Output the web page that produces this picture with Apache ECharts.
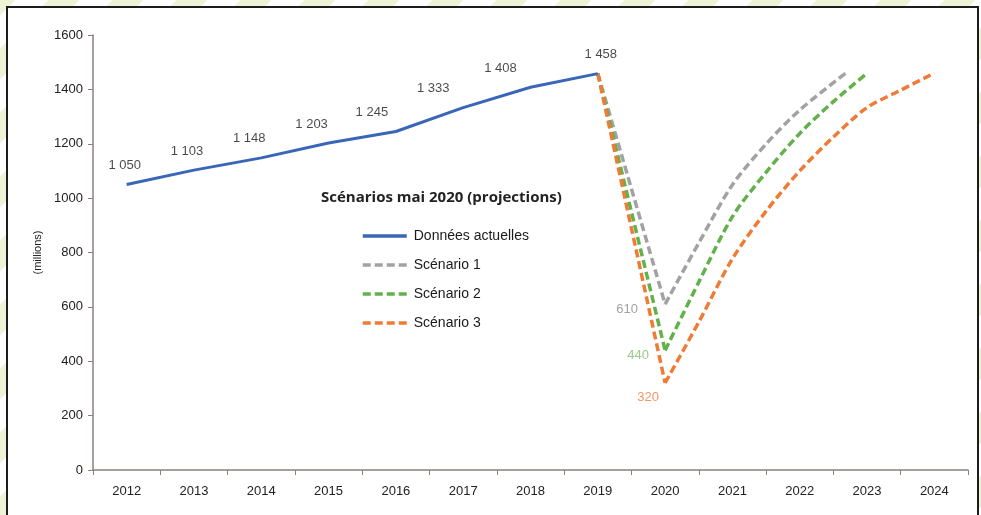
<!DOCTYPE html>
<html>
<head>
<meta charset="utf-8">
<script src="https://cdn.jsdelivr.net/npm/echarts@6/dist/echarts.min.js"></script>
<style>
html,body{margin:0;padding:0;background:#fff;}
#chart{width:981px;height:515px;}
</style>
</head>
<body>
<div id="chart"></div>
<script>
// ---- data ----
const yearLabels = ['2012','2013','2014','2015','2016','2017','2018','2019','2020','2021','2022','2023','2024'];
const actualYears = [2012, 2013, 2014, 2015, 2016, 2017, 2018, 2019];
const actualValues = [1050, 1103, 1148, 1203, 1245, 1333, 1408, 1458];
const dropYears = [2019, 2020];
const s1Drop = [1458, 610];
const s2Drop = [1458, 440];
const s3Drop = [1458, 320];
const s1Years = [2020, 2020.5, 2021, 2021.5, 2022, 2022.68];
const s1Values = [610, 835, 1049, 1199, 1324, 1459];
const s2Years = [2020, 2020.5, 2021, 2021.5, 2022, 2022.5, 2023];
const s2Values = [440, 691, 932, 1095, 1238, 1355, 1459];
const s3Years = [2020, 2020.5, 2021, 2021.5, 2022, 2022.5, 2023, 2023.5, 2024];
const s3Values = [320, 544, 777, 952, 1100, 1225, 1333, 1397, 1460];
const seriesNames = ['Données actuelles', 'Scénario 1', 'Scénario 2', 'Scénario 3'];
const legendTitle = 'Scénarios mai 2020 (projections)';
const yAxisName = '(millions)';

// ---- styles ----
const colors = ['#3a66b8', '#a3a1a3', '#62b14a', '#ef7b35'];
const actualLabelDx = [-2, -7, -12, -17, -24, -30, -30, 3];
const minLabelOffset = [[-38, 5], [-27, 5], [-17, 14]];
const minLabelColor = ['#8d8a8c', '#82b96f', '#ef7b3c'];
const FONT = 'Liberation Sans, Arial, sans-serif';
const fmt = v => String(v).replace(/\B(?=(\d{3})+(?!\d))/g, ' ');
const pairs = (xs, ys) => xs.map((x, i) => [x, ys[i]]);

// stripe pattern background
const pc = document.createElement('canvas');
pc.width = 64; pc.height = 64;
const pctx = pc.getContext('2d');
pctx.fillStyle = '#ffffff'; pctx.fillRect(0,0,64,64);
pctx.strokeStyle = '#eef3d8'; pctx.lineWidth = 22;
for (let k = -2; k <= 2; k++) {
  pctx.beginPath(); pctx.moveTo(k*64 - 10, 74); pctx.lineTo(k*64 + 74, -10); pctx.stroke();
}

const chart = echarts.init(document.getElementById('chart'), null, {renderer: 'canvas'});
const dashStyle = (c) => ({color: c, width: 3.5, type: [8, 4]});

const series = [
  {
    name: seriesNames[0], type: 'line', xAxisIndex: 1, symbol: 'none', z: 5,
    lineStyle: {color: colors[0], width: 3}, itemStyle: {color: colors[0]},
    data: pairs(actualYears, actualValues)
  },
  {
    name: 'labels-actual', type: 'scatter', xAxisIndex: 1, symbolSize: 1, z: 6,
    itemStyle: {color: 'rgba(0,0,0,0)'},
    data: actualYears.map((y, i) => ({
      value: [y, actualValues[i]],
      label: {show: true, position: 'top', distance: 11, offset: [actualLabelDx[i], 0],
        formatter: () => fmt(actualValues[i]), color: '#1a1a1a', fontSize: 13,
        fontFamily: FONT, backgroundColor: '#fff', padding: [1, 2]}
    }))
  }
];
const drops = [s1Drop, s2Drop, s3Drop];
const curves = [[s1Years, s1Values], [s2Years, s2Values], [s3Years, s3Values]];
for (let k = 0; k < 3; k++) {
  const c = colors[k + 1];
  series.push({
    name: seriesNames[k + 1], type: 'line', xAxisIndex: 1, symbol: 'none', z: 3 + k * 0.1,
    lineStyle: dashStyle(c), itemStyle: {color: c},
    data: pairs(dropYears, drops[k])
  });
  series.push({
    name: seriesNames[k + 1], type: 'line', xAxisIndex: 1, symbol: 'none', smooth: 0.3,
    z: 3 + k * 0.1,
    lineStyle: dashStyle(c), itemStyle: {color: c},
    data: pairs(curves[k][0], curves[k][1])
  });
  series.push({
    name: 'labels-min-' + k, type: 'scatter', xAxisIndex: 1, symbolSize: 1, z: 6,
    itemStyle: {color: 'rgba(0,0,0,0)'},
    data: [{
      value: [dropYears[1], drops[k][1]],
      label: {show: true, position: 'inside', offset: minLabelOffset[k], formatter: () => String(drops[k][1]),
        color: minLabelColor[k], fontSize: 13, fontFamily: FONT}
    }]
  });
}

const option = {
  backgroundColor: {image: pc, repeat: 'repeat'},
  animation: false,
  graphic: [
    {type: 'rect', shape: {x: 7, y: 7, width: 971, height: 520}, z: -10, silent: true,
     style: {fill: '#ffffff', stroke: '#1c1c1c', lineWidth: 2}}
  ],
  title: {
    text: legendTitle, left: 316, top: 185,
    textStyle: {fontFamily: 'Open Sans, sans-serif', fontWeight: 'bold', fontSize: 15, color: '#222'}
  },
  legend: {
    data: seriesNames, orient: 'vertical', left: 356, top: 224,
    itemWidth: 44, itemHeight: 14, itemGap: 15,
    itemStyle: {color: 'rgba(0,0,0,0)', opacity: 0, borderWidth: 0},
    lineStyle: {width: 3.5},
    textStyle: {fontFamily: FONT, fontSize: 14, color: '#1a1a1a', padding: [0, 0, 0, 2]}
  },
  grid: {left: 93, right: 13, top: 35, bottom: 45, containLabel: false},
  xAxis: [
    {type: 'category', data: yearLabels, boundaryGap: true,
     axisLine: {lineStyle: {color: '#8c7f7d', width: 1.5}},
     axisTick: {show: true, length: 5, lineStyle: {color: '#8c7f7d'}},
     axisLabel: {margin: 15, fontSize: 13, color: '#222', fontFamily: FONT},
     splitLine: {show: false}},
    {type: 'value', min: 2011.5, max: 2024.5, show: false, splitLine: {show: false}}
  ],
  yAxis: {
    type: 'value', min: 0, max: 1600, interval: 200,
    name: yAxisName, nameLocation: 'middle', nameGap: 50, nameRotate: 90,
    nameTextStyle: {fontSize: 11, color: '#222', fontFamily: FONT},
    axisLine: {show: true, lineStyle: {color: '#8c7f7d', width: 1.5}},
    axisTick: {show: true, length: 5, lineStyle: {color: '#8c7f7d'}},
    axisLabel: {margin: 10, fontSize: 13, color: '#222', fontFamily: FONT, formatter: v => String(v)},
    splitLine: {show: false}
  },
  series: series
};
chart.setOption(option);
</script>
</body>
</html>
